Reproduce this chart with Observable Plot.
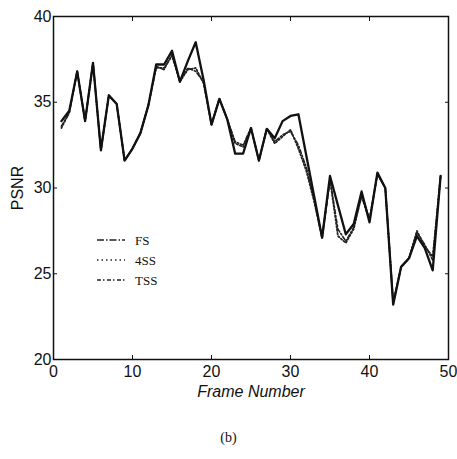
<!DOCTYPE html>
<html>
<head>
<meta charset="utf-8">
<script src="https://cdn.jsdelivr.net/npm/d3@7"></script>
<script src="https://cdn.jsdelivr.net/npm/@observablehq/plot@0.6"></script>
<style>
  html, body { margin: 0; padding: 0; background: #fff; }
  #wrap { position: relative; width: 457px; height: 459px; font-family: "Liberation Sans", Arial, sans-serif; }
  #legend { position: absolute; left: 95px; top: 230px; }
  #caption { position: absolute; left: 0; width: 457px; top: 430px; text-align: center; font-family: "Liberation Serif", "Times New Roman", serif; font-size: 14px; color: #111; }
</style>
</head>
<body>
<div id="wrap"></div>
<script>
const frames = d3.range(1, 50);
const fsValues = [33.9,34.5,36.8,33.9,37.3,32.2,35.4,34.9,31.6,32.3,
  33.2,34.8,37.2,37.2,38.0,36.2,37.4,38.5,36.3,33.7,
  35.2,34.0,32.0,32.0,33.5,31.6,33.45,32.9,33.9,34.2,
  34.3,31.9,29.5,27.1,30.7,29.0,27.3,27.9,29.8,28.0,
  30.9,30.0,23.2,25.4,25.9,27.2,26.5,25.2,30.7];
const fourSSValues = [33.5,34.4,36.8,33.9,37.3,32.2,35.4,34.9,31.6,32.3,
  33.2,34.8,37.0,37.0,37.7,36.2,36.9,37.0,36.1,33.7,
  35.2,34.0,32.6,32.4,33.5,31.6,33.45,32.6,33.0,33.4,
  32.3,31.0,29.2,27.1,30.5,27.2,26.8,27.6,29.6,28.2,
  30.8,30.0,23.3,25.4,25.9,27.5,26.6,26.0,30.7];
const tssValues = [33.6,34.4,36.8,33.9,37.3,32.2,35.4,34.9,31.6,32.3,
  33.2,34.8,37.1,36.9,37.8,36.2,37.0,36.8,36.2,33.7,
  35.2,34.0,32.7,32.5,33.5,31.6,33.45,32.7,33.1,33.3,
  32.5,31.2,29.3,27.1,30.5,27.6,26.9,27.7,29.5,28.1,
  30.8,30.0,23.3,25.4,25.9,27.4,26.7,25.8,30.7];
const seriesNames = ["FS", "4SS", "TSS"];
const xTicks = [0, 10, 20, 30, 40, 50];
const yTicks = [20, 25, 30, 35, 40];

const rows = (vals) => frames.map((f, i) => ({frame: f, psnr: vals[i]}));
const fs = rows(fsValues), s4 = rows(fourSSValues), tss = rows(tssValues);

const font = "Liberation Sans, Arial, sans-serif";
const blank = () => "";

const chart = Plot.plot({
  width: 457,
  height: 420,
  marginLeft: 53,
  marginRight: 9,
  marginTop: 16,
  marginBottom: 61,
  style: {fontFamily: font, fontSize: "16px", color: "#111", background: "white"},
  x: {domain: [0, 50]},
  y: {domain: [20, 40]},
  marks: [
    Plot.frame({stroke: "#111", strokeWidth: 1.5}),
    Plot.axisX(xTicks, {anchor: "bottom", tickSize: 0, tickPadding: 6, fontSize: 16, label: "Frame Number", labelAnchor: "center", labelOffset: 37, labelArrow: "none"}),
    Plot.axisX(xTicks, {anchor: "bottom", tickSize: -4, tickFormat: blank, label: null}),
    Plot.axisX(xTicks, {anchor: "top", tickSize: -4, tickFormat: blank, label: null}),
    Plot.axisY(yTicks, {anchor: "left", tickSize: 0, tickPadding: 2, fontSize: 16, label: "PSNR", labelAnchor: "center", labelOffset: 42, labelArrow: "none"}),
    Plot.axisY(yTicks, {anchor: "left", tickSize: -4, tickFormat: blank, label: null}),
    Plot.axisY(yTicks, {anchor: "right", tickSize: -4, tickFormat: blank, label: null}),
    Plot.line(tss, {x: "frame", y: "psnr", stroke: "#222", strokeWidth: 1.6, strokeDasharray: "4,2,1.5,2"}),
    Plot.line(s4, {x: "frame", y: "psnr", stroke: "#222", strokeWidth: 1.8, strokeDasharray: "1.5,2"}),
    Plot.line(fs, {x: "frame", y: "psnr", stroke: "#111", strokeWidth: 2.3})
  ]
});

// italic x label
chart.querySelectorAll("g[aria-label='x-axis label'] text").forEach(t => t.setAttribute("font-style", "italic"));

const wrap = document.getElementById("wrap");
wrap.appendChild(chart);

// legend
const dashes = {"FS": "7,2,1.5,2", "4SS": "1.5,3", "TSS": "4,2,1.5,2.5"};
const lg = d3.create("svg").attr("id", "legend").attr("width", 90).attr("height", 62)
  .style("font-family", "Liberation Serif, Times New Roman, serif").style("font-size", "13px");
seriesNames.forEach((n, i) => {
  const g = lg.append("g").attr("transform", `translate(0,${10 + i * 20})`);
  g.append("line").attr("x1", 2).attr("x2", 30).attr("y1", 0).attr("y2", 0)
    .attr("stroke", "#222").attr("stroke-width", 1.3).attr("stroke-dasharray", dashes[n]);
  g.append("text").attr("x", 40).attr("y", 4.5).attr("fill", "#111").text(n);
});
wrap.appendChild(lg.node());

const cap = document.createElement("div");
cap.id = "caption";
cap.textContent = "(b)";
wrap.appendChild(cap);
</script>
</body>
</html>
